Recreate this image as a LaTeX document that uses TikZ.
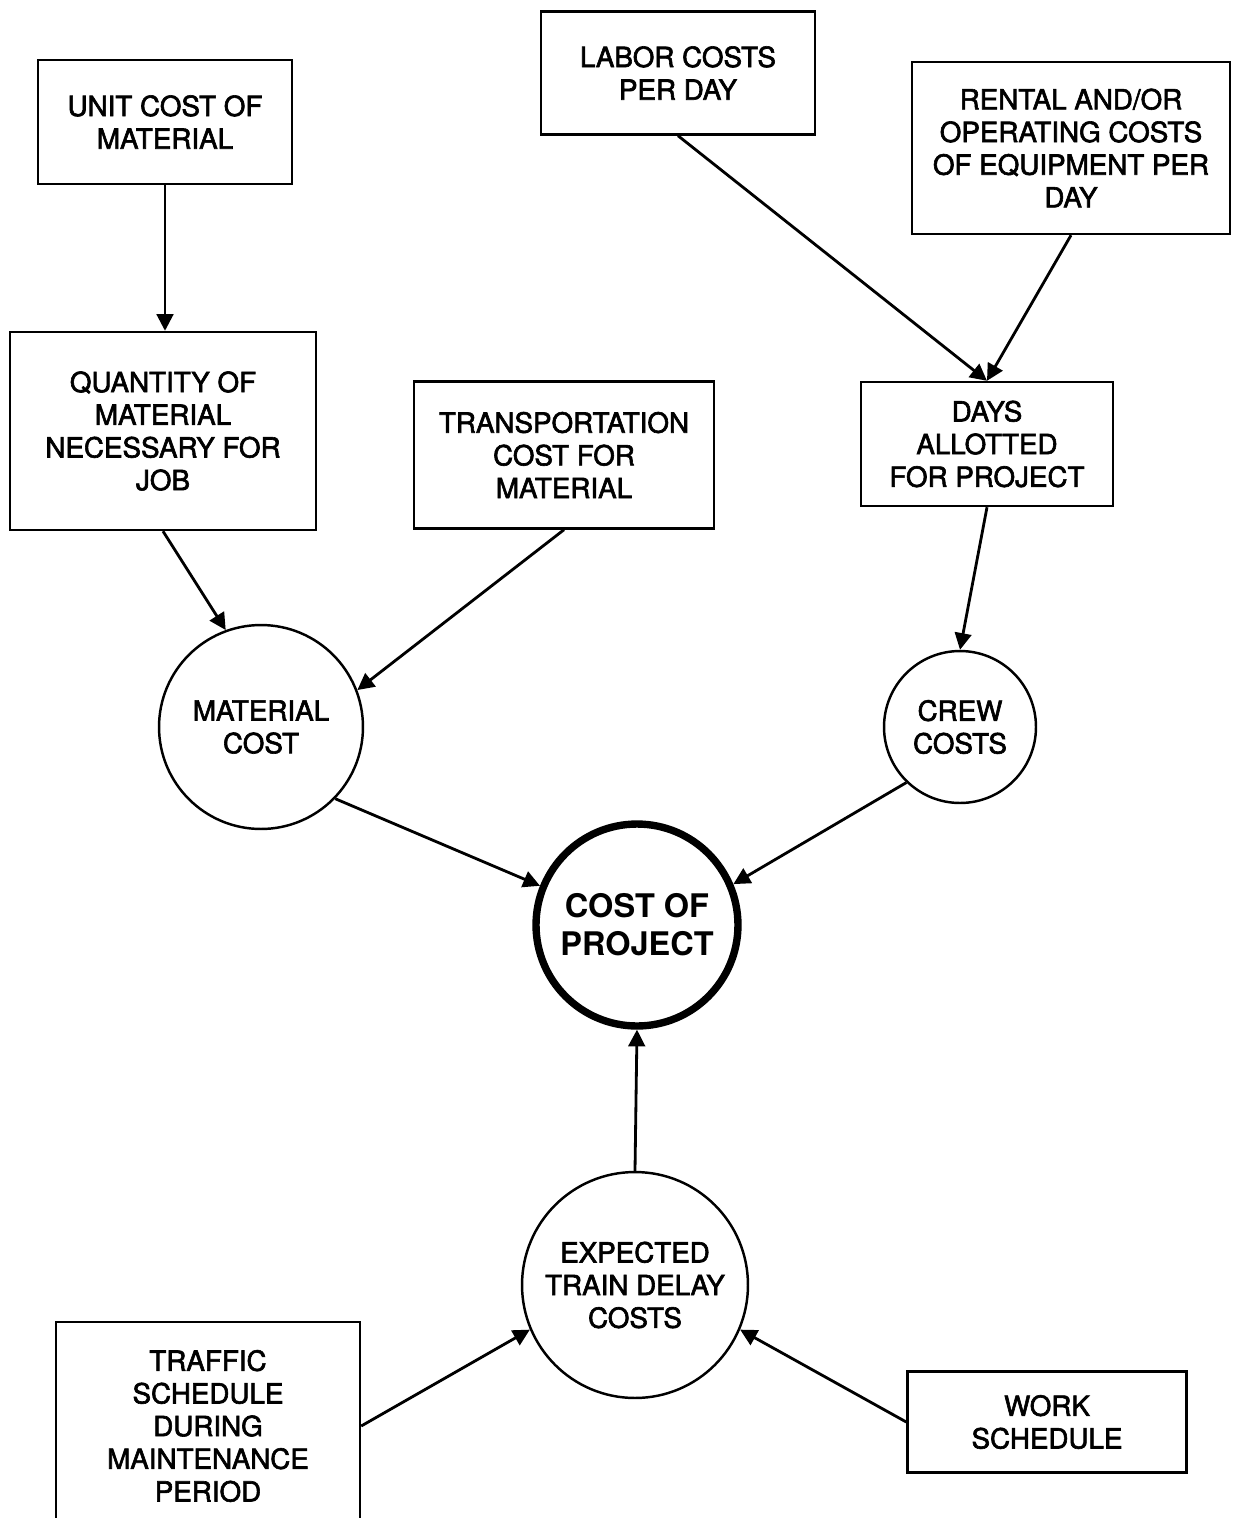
\documentclass[tikz,border=0pt]{standalone}
\usepackage{fontspec}
\setmainfont{TeX Gyre Heros}
\newfontfamily\medfont[FakeBold=2.2]{TeX Gyre Heros}
\usetikzlibrary{arrows.meta}
\begin{document}
\begin{tikzpicture}[x=0.02cm,y=-0.02cm,
  every node/.style={align=center,inner sep=0pt,font=\medfont\fontsize{15.8}{18.6}\selectfont},
  box/.style={draw,line width=1.4pt,rectangle},
  disc/.style={draw,line width=1.4pt,circle},
  goal/.style={draw,line width=4.2pt,circle,font=\bfseries\fontsize{18.5}{21.5}\selectfont},
  flow/.style={line width=1.6pt,-{Triangle[length=9.5pt,width=9.5pt]}}]
\clip (0,0) rectangle (1232,1518);
\fill[white] (0,0) rectangle (1232,1518);

% input boxes
\node[box,minimum width=5.08cm,minimum height=2.48cm] (unit) at (165,122) {UNIT COST OF\\MATERIAL};
\node[box,minimum width=5.48cm,minimum height=2.46cm] (labor) at (678,73) {LABOR COSTS\\PER DAY};
\node[box,minimum width=6.36cm,minimum height=3.44cm] (rent) at (1071,148) {RENTAL AND/OR\\OPERATING COSTS\\OF EQUIPMENT PER\\DAY};
\node[box,minimum width=6.12cm,minimum height=3.96cm] (qty) at (163,431) {QUANTITY OF\\MATERIAL\\NECESSARY FOR\\JOB};
\node[box,minimum width=6.0cm,minimum height=2.94cm] (trans) at (564,455) {TRANSPORTATION\\COST FOR\\MATERIAL};
\node[box,minimum width=5.04cm,minimum height=2.48cm] (days) at (987,444) {DAYS\\ALLOTTED\\FOR PROJECT};
\node[box,minimum width=6.08cm,minimum height=4.16cm] (traffic) at (208,1426) {TRAFFIC\\SCHEDULE\\DURING\\MAINTENANCE\\PERIOD};
\node[box,minimum width=5.58cm,minimum height=2.02cm] (work) at (1047,1422) {WORK\\SCHEDULE};

% cost circles
\node[disc,minimum size=4.08cm] (mat) at (261,727) {MATERIAL\\COST};
\node[disc,minimum size=3.04cm] (crew) at (960,727) {CREW\\COSTS};
\node[goal,minimum size=4.04cm] (cost) at (637,925) {COST OF\\PROJECT};
\node[disc,minimum size=4.52cm] (delay) at (635,1285) {EXPECTED\\TRAIN DELAY\\COSTS};

% connectors
\draw[flow] (unit.south) -- (qty.north -| unit.south);
\draw[flow] (qty.south) -- (mat.110);
\draw[flow] (trans.south) -- (mat.21);
\draw[flow] (labor.south) -- (days.north);
\draw[flow] (rent.south) -- (days.north);
\draw[flow] (days.south) -- (crew.north);
\draw[flow] (mat.-44) -- (cost.158);
\draw[flow] (crew.226) -- (cost.23);
\draw[flow] (delay.north) -- (cost.south);
\draw[flow] (traffic.east) -- (delay.203);
\draw[flow] (work.west) -- (delay.337);
\end{tikzpicture}
\end{document}
